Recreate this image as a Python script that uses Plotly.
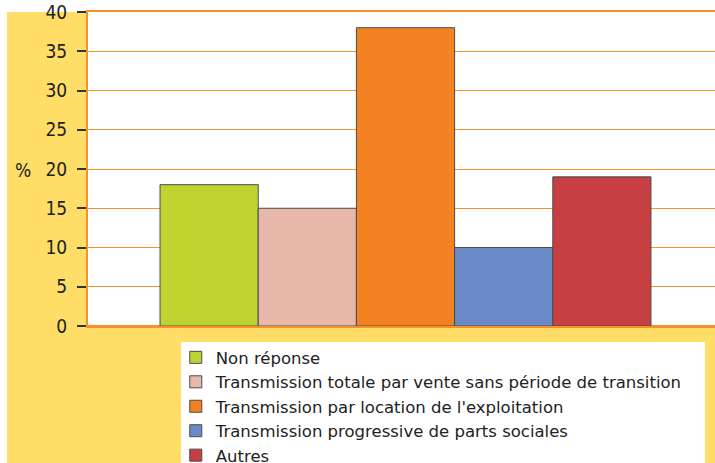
import plotly.graph_objects as go

series_names = [
    "Non réponse",
    "Transmission totale par vente sans période de transition",
    "Transmission par location de l'exploitation",
    "Transmission progressive de parts sociales",
    "Autres",
]
series_values = [18, 15, 38, 10, 19]
series_colors = ["#BFD431", "#E8B8AA", "#F38322", "#6A8AC7", "#C73F42"]
y_ticks = [0, 5, 10, 15, 20, 25, 30, 35, 40]

FONT = "DejaVu Sans Condensed, Liberation Sans Narrow, sans-serif"
LEGEND_FONT = "DejaVu Sans, sans-serif"
YELLOW = "#FFDD67"
ORANGE = "#F7922A"

fig = go.Figure()
for name, val, col in zip(series_names, series_values, series_colors):
    fig.add_trace(go.Bar(
        x=[""], y=[val], name=name,
        marker=dict(color=col, line=dict(color="#4a4a4a", width=1)),
    ))

fig.update_layout(
    width=715, height=463,
    margin=dict(l=88, r=0, t=12, b=137, autoexpand=False),
    paper_bgcolor=YELLOW,
    plot_bgcolor="white",
    barmode="group",
    bargap=0.217,
    bargroupgap=0,
    showlegend=True,
    font=dict(family=FONT, color="#222222"),
    xaxis=dict(
        type="category",
        range=[-0.5064, 0.4936],
        showticklabels=False,
        showgrid=False,
        showline=True, linecolor=ORANGE, linewidth=2, mirror=True,
        ticks="",
        zeroline=False,
    ),
    yaxis=dict(
        range=[0, 40],
        tickvals=y_ticks,
        ticktext=[str(v) for v in y_ticks],
        ticks="outside", ticklen=9, tickcolor="#333333", tickwidth=1.5,
        tickfont=dict(family=FONT, size=19, color="#222222"),
        ticklabelstandoff=6,
        showgrid=True, gridcolor=ORANGE, gridwidth=1,
        showline=True, linecolor=ORANGE, linewidth=2,
        zeroline=True, zerolinecolor=ORANGE, zerolinewidth=2,
    ),
    legend=dict(
        x=0.140, y=-0.045, xanchor="left", yanchor="top",
        bgcolor="rgba(0,0,0,0)",
        font=dict(family=LEGEND_FONT, size=16.5, color="#222222"),
        itemwidth=30,
        tracegroupgap=0,
    ),
    shapes=[
        dict(type="rect", xref="paper", yref="paper", x0=-0.15, x1=1.01, y0=1.0, y1=1.05,
             fillcolor="white", line=dict(width=0), layer="below"),
        dict(type="rect", xref="paper", yref="paper", x0=-0.15, x1=-0.1292, y0=-0.45, y1=1.05,
             fillcolor="white", line=dict(width=0), layer="below"),
        dict(type="rect", xref="paper", yref="paper", x0=0.1483, x1=0.984, y0=-0.051, y1=-0.45,
             fillcolor="white", line=dict(width=0), layer="below"),
    ],
    annotations=[
        dict(text="%", xref="paper", yref="paper", x=-0.104, y=0.497,
             xanchor="center", yanchor="middle", showarrow=False,
             font=dict(family=FONT, size=19, color="#222222")),
    ],
)

fig.write_html(
    "out.html",
    config={"responsive": False, "displayModeBar": False},
    post_script="document.body.style.margin='0';document.body.style.overflow='hidden';",
)
